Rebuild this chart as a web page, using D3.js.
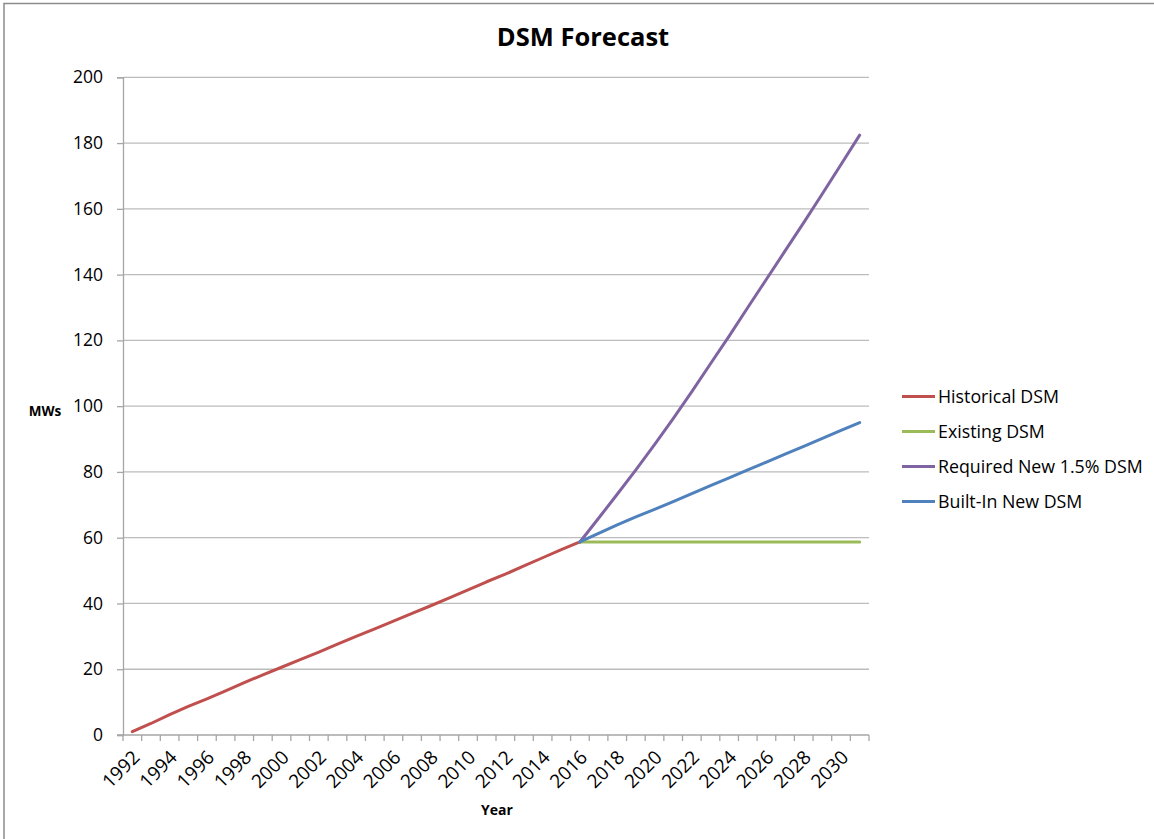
<!DOCTYPE html>
<html>
<head>
<meta charset="utf-8">
<script src="https://cdn.jsdelivr.net/npm/d3@7"></script>
<style>
  body { margin: 0; background: #fff; }
  svg { display: block; font-family: "Open Sans", sans-serif; }
</style>
</head>
<body>
<script>
// ---- data ----
var years = d3.range(1992, 2032);
var histYears = d3.range(1992, 2017);
var histDSM = [1.0, 3.5, 6.2, 8.7, 11.0, 13.4, 15.9, 18.3, 20.6, 22.9, 25.2, 27.6, 30.0,
               32.3, 34.6, 37.0, 39.3, 41.7, 44.1, 46.6, 48.9, 51.4, 53.9, 56.4, 58.7];
var fcYears = d3.range(2016, 2032);
var existingDSM = [58.7, 58.7, 58.7, 58.7, 58.7, 58.7, 58.7, 58.7, 58.7, 58.7, 58.7, 58.7,
                   58.7, 58.7, 58.7, 58.7];
var requiredDSM = [58.7, 65.9, 73.2, 80.6, 88.3, 96.2, 104.4, 112.9, 121.3, 130.0, 138.6,
                   147.2, 155.8, 164.6, 173.5, 182.4];
var builtInDSM = [58.7, 61.3, 63.9, 66.3, 68.6, 71.0, 73.4, 75.8, 78.2, 80.6, 83.0, 85.4,
                  87.8, 90.2, 92.6, 95.0];
var yTicks = [0, 20, 40, 60, 80, 100, 120, 140, 160, 180, 200];
var seriesNames = ["Historical DSM", "Existing DSM", "Required New 1.5% DSM", "Built-In New DSM"];
var seriesColors = ["#C0504D", "#9BBB59", "#8064A2", "#4F81BD"];

var W = 1154, H = 839;
// plot area (note: "top" is taken by window.top, so use other names)
var plotLeft = 123, plotRight = 869, plotTop = 77.3, plotBottom = 735;

var svg = d3.select("body").append("svg")
  .attr("width", W)
  .attr("height", H);

// outer frame
svg.append("rect")
  .attr("x", 4).attr("y", 3.5)
  .attr("width", W + 10).attr("height", H + 10)
  .attr("fill", "none")
  .attr("stroke", "#8c8c8c")
  .attr("stroke-width", 1.5);

var x = d3.scaleBand().domain(years).range([plotLeft, plotRight]).padding(0);
var bw = x.bandwidth();
function cx(yr) { return x(yr) + bw / 2; }
var y = d3.scaleLinear().domain([0, 200]).range([plotBottom, plotTop]);

// gridlines
svg.append("g")
  .selectAll("line")
  .data(yTicks.filter(function(d) { return d > 0; }))
  .enter().append("line")
  .attr("x1", plotLeft).attr("x2", plotRight)
  .attr("y1", function(d) { return y(d); })
  .attr("y2", function(d) { return y(d); })
  .attr("stroke", "#bcbcbc")
  .attr("stroke-width", 1.3);

// Y axis
var yAxis = svg.append("g")
  .attr("transform", "translate(" + plotLeft + ",0)")
  .call(d3.axisLeft(y).tickValues(yTicks).tickSize(6).tickPadding(14));
yAxis.select(".domain").attr("stroke", "#a6a6a6").attr("stroke-width", 1.3);
yAxis.selectAll(".tick line").attr("stroke", "#a6a6a6").attr("stroke-width", 1.3);
yAxis.selectAll("text")
  .attr("font-size", 17.5)
  .attr("font-family", "Open Sans, sans-serif")
  .attr("fill", "#000");

// X axis line and tick marks at category boundaries
svg.append("line")
  .attr("x1", plotLeft - 6).attr("x2", plotRight)
  .attr("y1", plotBottom).attr("y2", plotBottom)
  .attr("stroke", "#a6a6a6").attr("stroke-width", 1.3);
var bounds = years.map(function(d) { return x(d); }).concat([plotRight]);
svg.append("g")
  .selectAll("line")
  .data(bounds)
  .enter().append("line")
  .attr("x1", function(d) { return d; })
  .attr("x2", function(d) { return d; })
  .attr("y1", plotBottom).attr("y2", plotBottom + 6)
  .attr("stroke", "#a6a6a6").attr("stroke-width", 1.3);

// X labels every other year, rotated
svg.append("g")
  .selectAll("text")
  .data(years.filter(function(d) { return (d - 1992) % 2 == 0; }))
  .enter().append("text")
  .attr("transform", function(d) {
    return "translate(" + (cx(d) + 5) + "," + (plotBottom + 20) + ") rotate(-45)";
  })
  .attr("text-anchor", "end")
  .attr("dominant-baseline", "middle")
  .attr("font-size", 19)
  .attr("fill", "#000")
  .text(function(d) { return d; });

// lines
var line = d3.line()
  .x(function(d) { return cx(d[0]); })
  .y(function(d) { return y(d[1]); });

function pairs(xs, vs) {
  return xs.map(function(d, i) { return [d, vs[i]]; });
}
var seriesData = [
  pairs(histYears, histDSM),
  pairs(fcYears, existingDSM),
  pairs(fcYears, requiredDSM),
  pairs(fcYears, builtInDSM)
];

svg.append("g")
  .selectAll("path")
  .data(seriesData)
  .enter().append("path")
  .attr("d", line)
  .attr("fill", "none")
  .attr("stroke", function(d, i) { return seriesColors[i]; })
  .attr("stroke-width", 3)
  .attr("stroke-linejoin", "round")
  .attr("stroke-linecap", "round");

// title
svg.append("text")
  .attr("x", 583).attr("y", 46)
  .attr("text-anchor", "middle")
  .attr("font-size", 25.5)
  .attr("font-weight", "bold")
  .attr("fill", "#000")
  .text("DSM Forecast");

// axis titles
svg.append("text")
  .attr("x", 497).attr("y", 815)
  .attr("text-anchor", "middle")
  .attr("font-size", 14)
  .attr("font-weight", "bold")
  .text("Year");
svg.append("text")
  .attr("x", 45).attr("y", 416)
  .attr("text-anchor", "middle")
  .attr("font-size", 13.5)
  .attr("font-weight", "bold")
  .text("MWs");

// legend
var legend = svg.append("g");
var rows = legend.selectAll("g")
  .data(seriesNames)
  .enter().append("g")
  .attr("transform", function(d, i) { return "translate(902," + (396.5 + i * 35) + ")"; });
rows.append("line")
  .attr("x1", 0).attr("x2", 33)
  .attr("stroke", function(d, i) { return seriesColors[i]; })
  .attr("stroke-width", 3);
rows.append("text")
  .attr("x", 36)
  .attr("dy", "0.35em")
  .attr("font-size", 17.8)
  .attr("fill", "#000")
  .text(function(d) { return d; });
</script>
</body>
</html>
